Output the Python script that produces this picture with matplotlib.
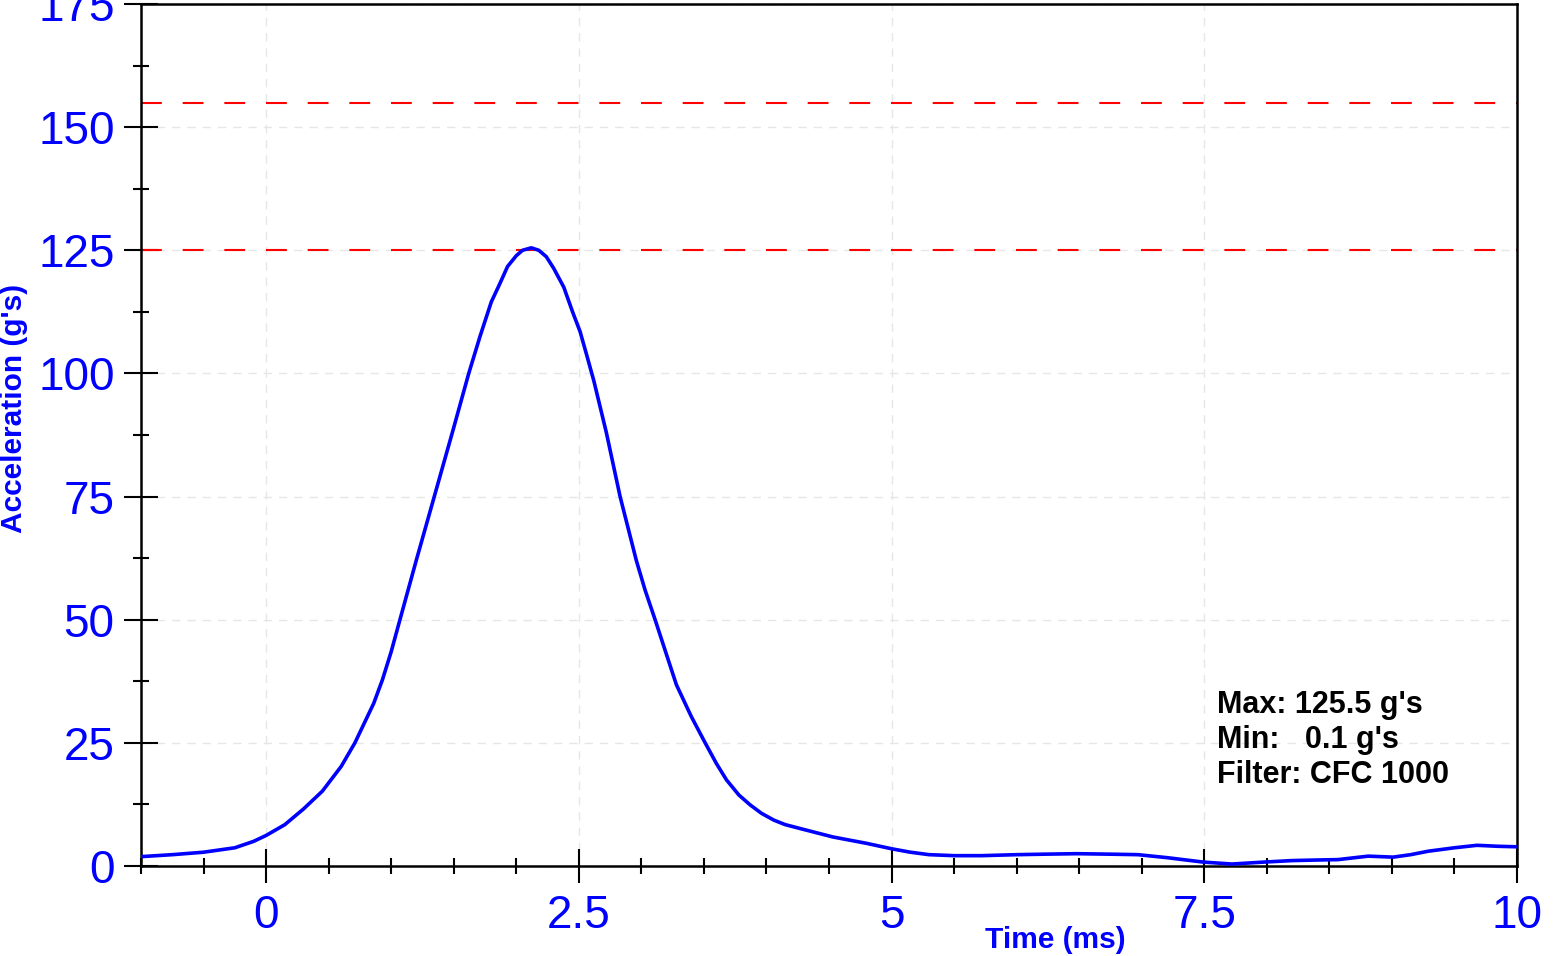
import matplotlib
matplotlib.use("Agg")
import matplotlib.pyplot as plt
from matplotlib.ticker import MultipleLocator

plt.rcParams['font.family'] = ['Liberation Sans', 'DejaVu Sans']

# ---- data ----
time_ms = [-1.00, -0.75, -0.50, -0.25, -0.10, 0.00, 0.15, 0.30, 0.45, 0.60,
           0.71, 0.86, 0.93, 1.00, 1.07, 1.20, 1.35, 1.50, 1.62, 1.71,
           1.80, 1.87, 1.93, 2.00, 2.05, 2.12, 2.18, 2.24, 2.30, 2.38,
           2.45, 2.51, 2.56, 2.62, 2.72, 2.83, 2.96, 3.03, 3.11, 3.20,
           3.28, 3.40, 3.51, 3.60, 3.68, 3.78, 3.87, 3.96, 4.06, 4.15,
           4.27, 4.53, 4.80, 5.00, 5.15, 5.30, 5.50, 5.72, 6.00, 6.22,
           6.48, 6.75, 6.97, 7.20, 7.49, 7.72, 7.98, 8.20, 8.37, 8.57,
           8.81, 9.01, 9.15, 9.29, 9.50, 9.68, 9.85, 10.00]
accel_g = [1.9, 2.3, 2.8, 3.7, 5.0, 6.2, 8.4, 11.6, 15.2, 20.2,
           25.0, 33.0, 37.8, 43.5, 50.0, 62.0, 75.5, 89.0, 100.0, 107.5,
           114.5, 118.3, 121.7, 123.9, 125.0, 125.5, 125.0, 123.7, 121.3, 117.5,
           112.5, 108.5, 104.0, 98.5, 88.0, 75.0, 62.0, 56.0, 50.0, 43.0,
           36.8, 30.3, 25.0, 20.8, 17.5, 14.4, 12.4, 10.7, 9.3, 8.4,
           7.6, 5.9, 4.6, 3.5, 2.8, 2.3, 2.1, 2.1, 2.3, 2.4,
           2.5, 2.4, 2.3, 1.7, 0.8, 0.4, 0.8, 1.1, 1.2, 1.3,
           2.0, 1.8, 2.3, 3.0, 3.7, 4.2, 4.0, 3.9]
limit_lines = [125, 155]
x_major_ticks = [0, 2.5, 5, 7.5, 10]
x_tick_labels = ['0', '2.5', '5', '7.5', '10']
y_major_ticks = [0, 25, 50, 75, 100, 125, 150, 175]
y_tick_labels = ['0', '25', '50', '75', '100', '125', '150', '175']
x_label = 'Time (ms)'
y_label = "Acceleration (g's)"
stats_text = "Max: 125.5 g's\nMin:   0.1 g's\nFilter: CFC 1000"

W, H = 1559, 956
fig = plt.figure(figsize=(W / 100, H / 100), dpi=100)
ax = fig.add_axes([141 / W, 1 - 866 / H, (1517 - 141) / W, (866 - 4) / H])

ax.set_xlim(-1, 10)
ax.set_ylim(0, 175)

ax.grid(True, which='major', color='#e6e6e6', linestyle=(0, (6, 5)), linewidth=1.0)
ax.set_axisbelow(True)

for y in limit_lines:
    ax.axhline(y, color='#ff0000', linestyle=(0, (10, 10)), linewidth=1.5, zorder=2)

ax.plot(time_ms, accel_g, color='#0000ff', linewidth=2.6, zorder=3,
        solid_joinstyle='round', solid_capstyle='round')

ax.set_xticks(x_major_ticks)
ax.set_xticklabels(x_tick_labels)
ax.set_yticks(y_major_ticks)
ax.set_yticklabels(y_tick_labels)
ax.xaxis.set_minor_locator(MultipleLocator(0.5))
ax.yaxis.set_minor_locator(MultipleLocator(12.5))

ax.tick_params(which='major', direction='inout', length=24, width=1.5, color='black',
               labelsize=33, labelcolor='#0000ff')
ax.tick_params(axis='x', which='major', pad=8)
ax.tick_params(axis='y', which='major', pad=7)
ax.tick_params(which='minor', direction='inout', length=12, width=1.5, color='black')
ax.tick_params(top=False, right=False)

for s in ax.spines.values():
    s.set_linewidth(1.8)
    s.set_color('black')

fig.text(1055 / W, 1 - 948 / H, x_label, color='#0000ff', fontsize=21.5,
         fontweight='bold', ha='center', va='baseline')
fig.text(28 / W, 1 - 408 / H, y_label, color='#0000ff', fontsize=21.5,
         fontweight='bold', ha='right', va='center', rotation=90)

fig.text(1217 / W, 1 - 783 / H, stats_text, color='black', fontsize=22,
         fontweight='bold', ha='left', va='baseline', linespacing=1.22)

fig.savefig('out.png', dpi=100)
